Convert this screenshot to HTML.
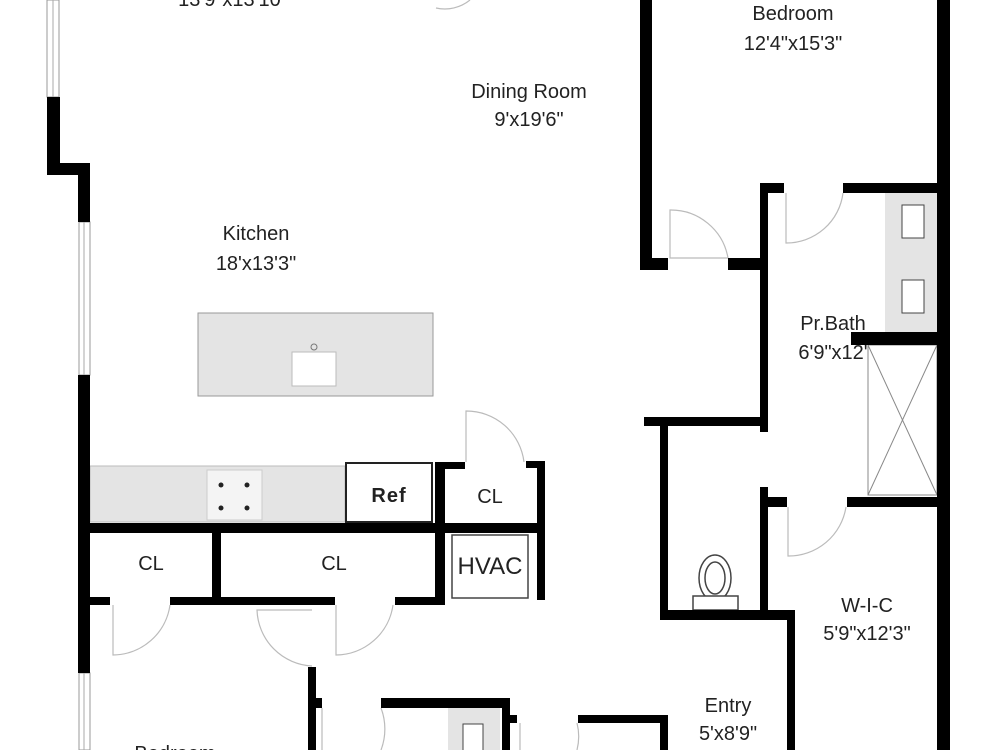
<!DOCTYPE html>
<html><head><style>
body{margin:0;background:#fff;}
svg{display:block;}
text{font-family:"Liberation Sans",sans-serif;font-size:20px;fill:#222;text-anchor:middle;}
</style></head><body>
<svg width="1000" height="750" viewBox="0 0 1000 750" xmlns="http://www.w3.org/2000/svg">
<rect width="1000" height="750" fill="#fff"/>
<!-- windows -->
<g fill="#fff" stroke="#999" stroke-width="1">
<rect x="47" y="0" width="12" height="97"/>
<rect x="79" y="222" width="11" height="153"/>
<rect x="79" y="673" width="11" height="77"/>
</g>
<g stroke="#aaa" stroke-width="1">
<line x1="53" y1="0" x2="53" y2="97"/><line x1="84" y1="222" x2="84" y2="375"/><line x1="84" y1="673" x2="84" y2="750"/>
</g>
<!-- islands / counters -->
<rect x="198" y="313" width="235" height="83" fill="#e4e4e4" stroke="#999"/>
<rect x="292" y="352" width="44" height="34" fill="#fff" stroke="#bbb"/>
<circle cx="314" cy="347" r="3" fill="none" stroke="#777"/>
<rect x="90" y="466" width="255" height="56" fill="#e4e4e4" stroke="#bbb"/>
<rect x="207" y="470" width="55" height="50" fill="#f4f4f4" stroke="#ccc"/>
<g fill="#222"><circle cx="221" cy="485" r="2.5"/><circle cx="247" cy="485" r="2.5"/><circle cx="221" cy="508" r="2.5"/><circle cx="247" cy="508" r="2.5"/></g>
<rect x="346" y="463" width="86" height="59" fill="#fff" stroke="#222" stroke-width="2"/>
<rect x="452" y="535" width="76" height="63" fill="#fff" stroke="#444" stroke-width="1.5"/>
<rect x="885" y="193" width="52" height="139" fill="#e4e4e4"/>
<rect x="902" y="205" width="22" height="33" fill="#fff" stroke="#444"/>
<rect x="902" y="280" width="22" height="33" fill="#fff" stroke="#444"/>
<rect x="868" y="345" width="69" height="150" fill="#fff" stroke="#888"/>
<line x1="868" y1="345" x2="937" y2="495" stroke="#888"/><line x1="937" y1="345" x2="868" y2="495" stroke="#888"/>
<rect x="448" y="708" width="52" height="42" fill="#e4e4e4"/>
<rect x="463" y="724" width="20" height="30" fill="#fff" stroke="#444"/>
<!-- toilet -->
<ellipse cx="715" cy="578" rx="16" ry="23" fill="#fff" stroke="#444" stroke-width="1.5"/>
<ellipse cx="715" cy="578" rx="10" ry="16" fill="#fff" stroke="#444" stroke-width="1.5"/>
<rect x="693" y="596" width="45" height="14" fill="#fff" stroke="#444" stroke-width="1.5"/>
<!-- door arcs -->
<g fill="none" stroke="#bbb" stroke-width="1.2">
<path d="M436 8 A40 40 0 0 0 470 0"/>
<path d="M670 258 V210 A58 58 0 0 1 728 258 Z"/>
<path d="M786 193 V243 A57 57 0 0 0 843 193"/>
<path d="M788 507 V556 A58 58 0 0 0 846 507"/>
<path d="M466 462 V411 A58 58 0 0 1 524 462"/>
<path d="M113 605 V655 A58 58 0 0 0 170 605"/>
<path d="M336 605 V655 A58 58 0 0 0 393 605"/>
<path d="M312 666 A58 58 0 0 1 257 610 L312 610"/>
<path d="M322 708 V750 M381 708 A59 59 0 0 1 381 750"/>
<path d="M520 723 V750 M577 723 A55 55 0 0 1 577 750"/>
</g>
<!-- walls -->
<g fill="#000">
<rect x="47" y="97" width="13" height="78"/>
<rect x="47" y="163" width="43" height="12"/>
<rect x="78" y="163" width="12" height="59"/>
<rect x="78" y="375" width="12" height="298"/>
<rect x="640" y="0" width="12" height="270"/>
<rect x="640" y="258" width="28" height="12"/>
<rect x="728" y="258" width="40" height="12"/>
<rect x="937" y="0" width="13" height="750"/>
<rect x="760" y="183" width="8" height="249"/>
<rect x="760" y="183" width="24" height="10"/>
<rect x="843" y="183" width="100" height="10"/>
<rect x="851" y="332" width="91" height="13"/>
<rect x="644" y="417" width="124" height="9"/>
<rect x="660" y="420" width="8" height="200"/>
<rect x="660" y="610" width="135" height="10"/>
<rect x="787" y="610" width="8" height="140"/>
<rect x="760" y="487" width="8" height="125"/>
<rect x="760" y="497" width="27" height="10"/>
<rect x="847" y="497" width="95" height="10"/>
<rect x="85" y="523" width="460" height="10"/>
<rect x="435" y="462" width="10" height="143"/>
<rect x="435" y="462" width="30" height="7"/>
<rect x="526" y="461" width="19" height="7"/>
<rect x="537" y="461" width="8" height="139"/>
<rect x="212" y="533" width="9" height="66"/>
<rect x="85" y="597" width="25" height="8"/>
<rect x="170" y="597" width="165" height="8"/>
<rect x="395" y="597" width="50" height="8"/>
<rect x="308" y="667" width="8" height="83"/>
<rect x="308" y="698" width="14" height="10"/>
<rect x="381" y="698" width="129" height="10"/>
<rect x="502" y="698" width="8" height="52"/>
<rect x="502" y="715" width="15" height="8"/>
<rect x="578" y="715" width="90" height="8"/>
<rect x="660" y="715" width="8" height="35"/>
</g>
<!-- labels -->
<text x="233" y="6">13'9"x13'10"</text>
<text x="529" y="98">Dining Room</text>
<text x="529" y="126">9'x19'6"</text>
<text x="793" y="20">Bedroom</text>
<text x="793" y="50">12'4"x15'3"</text>
<text x="256" y="240">Kitchen</text>
<text x="256" y="270">18'x13'3"</text>
<text x="833" y="330">Pr.Bath</text>
<text x="833" y="359">6'9"x12'</text>
<text x="389" y="502" style="font-weight:bold;letter-spacing:1px">Ref</text>
<text x="490" y="503">CL</text>
<text x="151" y="570">CL</text>
<text x="334" y="570">CL</text>
<text x="490" y="574" style="font-size:24px">HVAC</text>
<text x="867" y="612">W-I-C</text>
<text x="867" y="640">5'9"x12'3"</text>
<text x="728" y="712">Entry</text>
<text x="728" y="740">5'x8'9"</text>
<text x="175" y="760">Bedroom</text>
</svg>
</body></html>
